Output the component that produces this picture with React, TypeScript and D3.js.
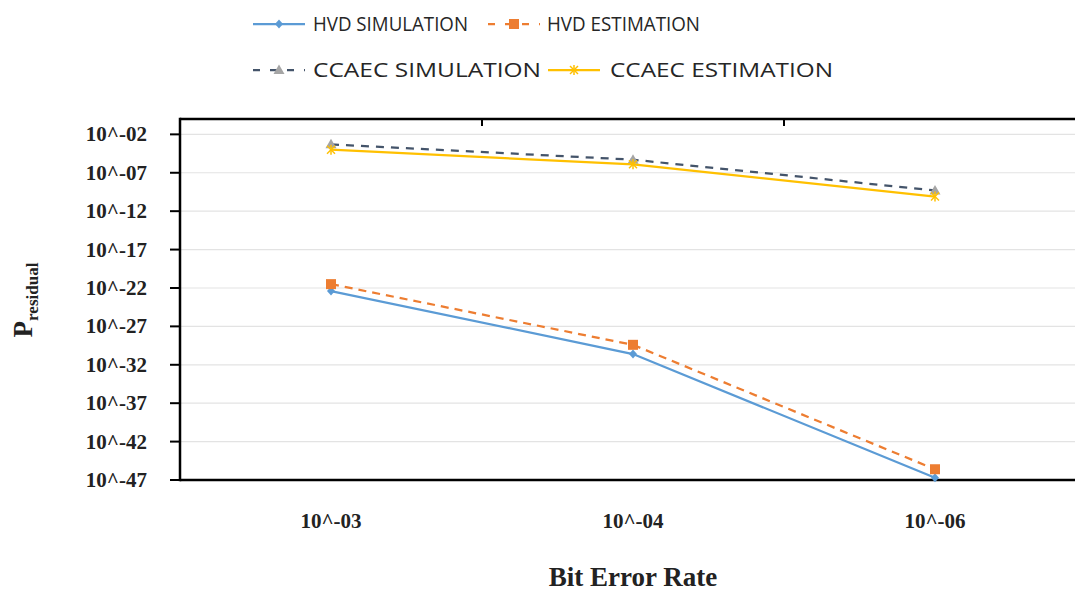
import React from "react";
import * as d3 from "d3";

const categories = ["10^-03", "10^-04", "10^-06"];
const yTickExponents = [-2, -7, -12, -17, -22, -27, -32, -37, -42, -47];
const hvdSimulation = [-22.4, -30.6, -46.7];
const hvdEstimation = [-21.5, -29.4, -45.6];
const ccaecSimulation = [-3.3, -5.3, -9.3];
const ccaecEstimation = [-4.0, -5.9, -10.1];

const W = 1075;
const H = 592;
const plot = { left: 180, top: 119, right: 1086, bottom: 480 };

const fmt = (e: number) => {
  const a = Math.abs(e);
  return `10^-${a < 10 ? "0" + a : a}`;
};

type Series = {
  name: string;
  values: number[];
  color: string;
  dash?: string;
  marker: "diamond" | "square" | "triangle" | "star";
  markerColor: string;
};

const series: Series[] = [
  { name: "HVD SIMULATION", values: hvdSimulation, color: "#5B9BD5", marker: "diamond", markerColor: "#5B9BD5" },
  { name: "HVD ESTIMATION", values: hvdEstimation, color: "#ED7D31", dash: "8,6", marker: "square", markerColor: "#ED7D31" },
  { name: "CCAEC SIMULATION", values: ccaecSimulation, color: "#44546A", dash: "8,7", marker: "triangle", markerColor: "#A5A5A5" },
  { name: "CCAEC ESTIMATION", values: ccaecEstimation, color: "#FFC000", marker: "star", markerColor: "#FFC000" },
];

function Marker({ type, x, y, color }: { type: Series["marker"]; x: number; y: number; color: string }) {
  if (type === "diamond") {
    return <path d={`M${x},${y - 4.5}L${x + 4},${y}L${x},${y + 4.5}L${x - 4},${y}Z`} fill={color} />;
  }
  if (type === "square") {
    return <rect x={x - 5} y={y - 5} width={10} height={10} fill={color} />;
  }
  if (type === "triangle") {
    return <path d={`M${x},${y - 5.5}L${x + 5.5},${y + 4}L${x - 5.5},${y + 4}Z`} fill={color} />;
  }
  return (
    <g stroke={color} strokeWidth={1.5}>
      <line x1={x - 4} y1={y - 4} x2={x + 4} y2={y + 4} />
      <line x1={x - 4} y1={y + 4} x2={x + 4} y2={y - 4} />
      <line x1={x} y1={y - 5} x2={x} y2={y + 5} />
    </g>
  );
}

export default function App() {
  const x = d3.scaleBand<string>().domain(categories).range([plot.left, plot.right]);
  const y = d3.scaleLinear().domain([0, -47]).range([plot.top, plot.bottom]);
  const cx = (c: string) => (x(c) as number) + x.bandwidth() / 2;

  const line = d3
    .line<number>()
    .x((_, i) => cx(categories[i]))
    .y((v) => y(v));

  const legendItems = [
    { s: series[0], lx: 253, ly: 24, tx: 313, tl: 155 },
    { s: series[1], lx: 488, ly: 24, tx: 547, tl: 153 },
    { s: series[2], lx: 253, ly: 70, tx: 313, tl: 228 },
    { s: series[3], lx: 548, ly: 70, tx: 610, tl: 223 },
  ];

  const serif = "'Liberation Serif', 'DejaVu Serif', serif";

  return (
    <svg
      width={W}
      height={H}
      style={{ position: "absolute", left: 0, top: 0, background: "#fff" }}
      xmlns="http://www.w3.org/2000/svg"
    >
      <rect width={W} height={H} fill="#fff" />
      {/* legend */}
      {legendItems.map(({ s, lx, ly, tx, tl }) => (
        <g key={s.name}>
          <line
            x1={lx}
            x2={lx + 52}
            y1={ly}
            y2={ly}
            stroke={s.color}
            strokeWidth={2.25}
            strokeDasharray={s.dash ? "7,10" : undefined}
          />
          <Marker type={s.marker} x={lx + 26} y={ly} color={s.markerColor} />
          <text
            x={tx}
            y={ly}
            dy="0.36em"
            fontFamily="'Open Sans', 'Liberation Sans', sans-serif"
            fontSize={20}
            fill="#262626"
            textLength={tl}
            lengthAdjust="spacingAndGlyphs"
          >
            {s.name}
          </text>
        </g>
      ))}

      {/* gridlines */}
      {yTickExponents.map((e) => (
        <line key={"g" + e} x1={plot.left} x2={W} y1={y(e)} y2={y(e)} stroke="#E3E3E3" strokeWidth={1.2} />
      ))}

      {/* y ticks and labels */}
      {yTickExponents.map((e) => (
        <g key={"t" + e}>
          <line x1={plot.left - 10} x2={plot.left} y1={y(e)} y2={y(e)} stroke="#000" strokeWidth={2} />
          <text
            x={147}
            y={y(e)}
            dy="0.33em"
            textAnchor="end"
            fontFamily={serif}
            fontWeight="bold"
            fontSize={21}
            fill="#222"
          >
            {fmt(e)}
          </text>
        </g>
      ))}

      {/* top ticks at category boundaries */}
      {categories.slice(1).map((c) => (
        <line
          key={"tt" + c}
          x1={x(c) as number}
          x2={x(c) as number}
          y1={plot.top}
          y2={plot.top + 7}
          stroke="#000"
          strokeWidth={2}
        />
      ))}

      {/* frame */}
      <line x1={plot.left} x2={W} y1={plot.top} y2={plot.top} stroke="#000" strokeWidth={2.5} />
      <line x1={plot.left} x2={W} y1={plot.bottom} y2={plot.bottom} stroke="#000" strokeWidth={2.5} />
      <line x1={plot.left} x2={plot.left} y1={plot.top - 1.25} y2={plot.bottom + 1.25} stroke="#000" strokeWidth={2.5} />

      {/* series */}
      {series.map((s) => (
        <g key={s.name}>
          <path
            d={line(s.values) as string}
            fill="none"
            stroke={s.color}
            strokeWidth={2.25}
            strokeDasharray={s.dash}
          />
          {s.values.map((v, i) => (
            <Marker key={i} type={s.marker} x={cx(categories[i])} y={y(v)} color={s.markerColor} />
          ))}
        </g>
      ))}

      {/* x tick labels */}
      {categories.map((c) => (
        <text
          key={"x" + c}
          x={cx(c)}
          y={521}
          dy="0.33em"
          textAnchor="middle"
          fontFamily={serif}
          fontWeight="bold"
          fontSize={21}
          fill="#222"
        >
          {c}
        </text>
      ))}

      {/* axis titles */}
      <text
        x={633}
        y={586}
        textAnchor="middle"
        fontFamily={serif}
        fontWeight="bold"
        fontSize={27}
        fill="#222"
      >
        Bit Error Rate
      </text>
      <text
        transform="translate(32,300) rotate(-90)"
        textAnchor="middle"
        fontFamily={serif}
        fontWeight="bold"
        fill="#222"
      >
        <tspan fontSize={27}>P</tspan>
        <tspan fontSize={17} dy={6}>residual</tspan>
      </text>
    </svg>
  );
}
